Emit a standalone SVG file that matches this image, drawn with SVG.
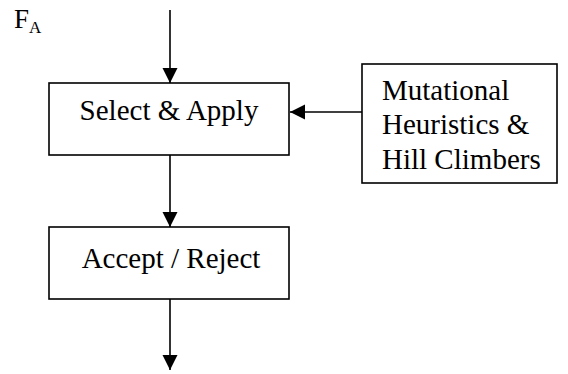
<svg xmlns="http://www.w3.org/2000/svg" width="568" height="374" viewBox="0 0 568 374">
  <style>
    .box { fill: #ffffff; stroke: #000000; stroke-width: 1.6; }
    .lbl { font-family: 'Liberation Serif', 'Times New Roman', Times, 'DejaVu Serif', serif; font-size: 29px; fill: #000000; }
    .edge { stroke: #000000; stroke-width: 1.6; fill: none; }
  </style>
  <defs>
    <marker id="arrow" markerUnits="userSpaceOnUse" markerWidth="16" markerHeight="16" refX="15" refY="8" orient="auto">
      <path d="M0,0.5 L15,8 L0,15.5 Z" fill="#000000"/>
    </marker>
  </defs>

  <!-- input label -->
  <g id="label-fa">
    <text class="lbl" x="14" y="28" style="font-size:27px">F<tspan style="font-size:17px" dy="5">A</tspan></text>
  </g>

  <g id="node-select">
    <rect class="box" x="49" y="83" width="240" height="72"/>
    <text class="lbl" x="169" y="120" text-anchor="middle">Select &amp; Apply</text>
  </g>

  <g id="node-accept">
    <rect class="box" x="49" y="227" width="240" height="72"/>
    <text class="lbl" x="171" y="268" text-anchor="middle">Accept / Reject</text>
  </g>

  <g id="node-heuristics">
    <rect class="box" x="362" y="64" width="195" height="119"/>
    <text class="lbl" x="382" y="100">Mutational</text>
    <text class="lbl" x="382" y="134">Heuristics &amp;</text>
    <text class="lbl" x="382" y="169">Hill Climbers</text>
  </g>

  <g id="connectors">
    <line class="edge" x1="170" y1="10" x2="170" y2="83" marker-end="url(#arrow)"/>
    <line class="edge" x1="362" y1="112" x2="290" y2="112" marker-end="url(#arrow)"/>
    <line class="edge" x1="170" y1="155" x2="170" y2="227" marker-end="url(#arrow)"/>
    <line class="edge" x1="170" y1="299" x2="170" y2="370" marker-end="url(#arrow)"/>
  </g>
</svg>
